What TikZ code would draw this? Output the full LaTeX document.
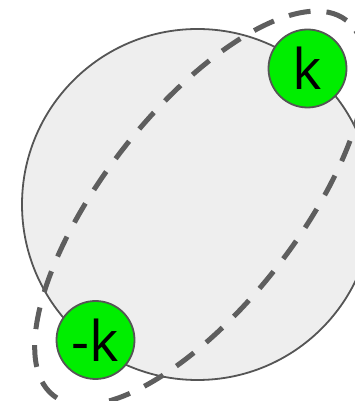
\documentclass[tikz,border=0pt]{standalone}
\usepackage{fontspec}
\setsansfont{Open Sans}
\definecolor{linegray}{HTML}{555555}
\definecolor{dashgray}{HTML}{5E5E5E}
\definecolor{spheregray}{HTML}{EEEEEE}
\definecolor{momgreen}{HTML}{00EE00}

\begin{document}
\begin{tikzpicture}[
  x=1pt, y=1pt,
  sphere/.style={draw=linegray, line width=1.8pt, fill=spheregray},
  orbit/.style={draw=dashgray, line width=5pt, dash pattern=on 22pt off 16pt},
  mom/.style={circle, draw=linegray, line width=1.8pt, fill=momgreen, minimum size=78pt, inner sep=0pt, font=\sffamily\fontsize{56}{56}\selectfont}
]
\useasboundingbox (0,0) rectangle (355,401);
\clip (0,0) rectangle (355,401);
% Fermi sphere
\draw[sphere] (197.5,196.5) circle[radius=175.5];
% pair orbit
\draw[orbit, rotate around={52:(200,193)}] (200,193) ellipse[x radius=238, y radius=97];
% momenta
\node[mom] (k) at (307.5,332.5) {k};
\node[mom] (mk) at (95.5,61) {-k};
\end{tikzpicture}
\end{document}
